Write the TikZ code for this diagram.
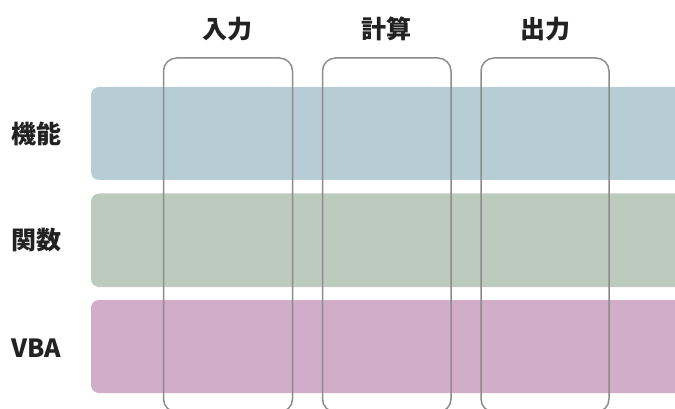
\documentclass[tikz,border=0pt]{standalone}
\usepackage{fontspec}
\newfontfamily\cjk{Noto Sans CJK JP}
\definecolor{barA}{HTML}{B7CDD5}
\definecolor{barB}{HTML}{BCCBBD}
\definecolor{barC}{HTML}{D1ADC9}
\definecolor{boxline}{HTML}{8C8C8C}
\definecolor{txt}{HTML}{222222}
\tikzset{
  bar/.style={rounded corners=8pt},
  colbox/.style={draw=boxline, line width=1.5pt, rounded corners=13pt},
  lbl/.style={font=\cjk\bfseries\fontsize{25}{28}\selectfont, text=txt, inner sep=0pt, anchor=center}
}
\begin{document}
\begin{tikzpicture}[x=1pt,y=-1pt]
\useasboundingbox (0,0) rectangle (675,409);
\clip (0,0) rectangle (675,409);
\fill[barA, bar] (91,87) rectangle (700,180);
\fill[barB, bar] (91,193.5) rectangle (700,287);
\fill[barC, bar] (91,300) rectangle (700,393);
\draw[colbox] (163.5,58) rectangle (292.5,412);
\draw[colbox] (322.5,58) rectangle (451,412);
\draw[colbox] (481,58) rectangle (609,412);
\node[lbl] (in) at (227,29) {入力};
\node[lbl] (calc) at (386,29) {計算};
\node[lbl] (out) at (545,29) {出力};
\node[lbl] (kino) at (36,134) {機能};
\node[lbl] (kansu) at (36,240) {関数};
\node[lbl] (vba) at (36,348) {VBA};
\end{tikzpicture}
\end{document}
